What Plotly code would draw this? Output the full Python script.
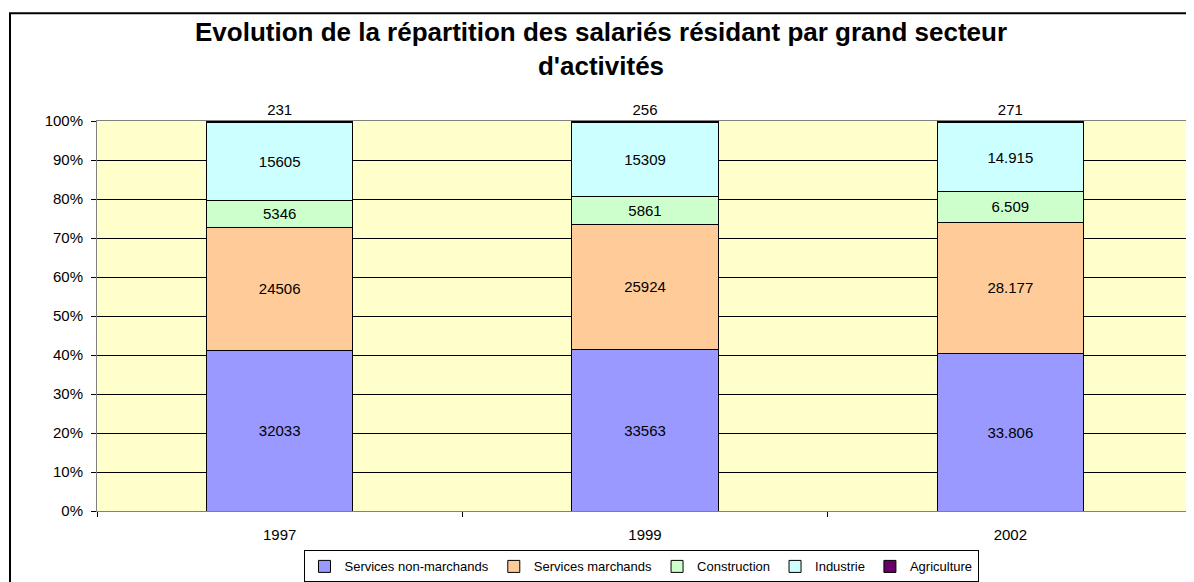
import plotly.graph_objects as go

years = ["1997", "1999", "2002"]
series_names = ["Services non-marchands", "Services marchands", "Construction", "Industrie", "Agriculture"]
services_non_marchands = [32033, 33563, 33806]
services_marchands = [24506, 25924, 28177]
construction = [5346, 5861, 6509]
industrie = [15605, 15309, 14915]
agriculture = [231, 256, 271]
label_snm = ["32033", "33563", "33.806"]
label_sm = ["24506", "25924", "28.177"]
label_con = ["5346", "5861", "6.509"]
label_ind = ["15605", "15309", "14.915"]
label_agr = ["231", "256", "271"]
y_ticks = [0, 10, 20, 30, 40, 50, 60, 70, 80, 90, 100]
y_tick_labels = ["0%", "10%", "20%", "30%", "40%", "50%", "60%", "70%", "80%", "90%", "100%"]

colors = ["#9999FF", "#FFCC99", "#CCFFCC", "#CCFFFF", "#660066"]
values = [services_non_marchands, services_marchands, construction, industrie, agriculture]
labels = [label_snm, label_sm, label_con, label_ind, label_agr]

FONT = "Liberation Sans, Arial, sans-serif"
FS = 15
OFF = 8  # page body margin offset
fig = go.Figure()
for i, name in enumerate(series_names):
    last = i == len(series_names) - 1
    fig.add_trace(go.Bar(
        x=years, y=values[i], name=name, text=labels[i],
        textposition="outside" if last else "inside",
        insidetextanchor="middle",
        constraintext="none",
        cliponaxis=False,
        textfont=dict(family=FONT, size=FS, color="black"),
        marker=dict(color=colors[i], line=dict(color="black", width=1)),
        hoverinfo="skip",
    ))

# plot area in page pixels: x 97..1193, y 121..511.5
W0, H0 = 97, 511.5
PW, PH = 1096, 390.5
def px(x):
    return (x - W0) / PW
def py(y):
    return (H0 - y) / PH

FW, FH = 1194, 582
fig.update_layout(
    width=FW, height=FH,
    margin=dict(l=W0 - OFF, r=FW - (W0 + PW - OFF), t=121 - OFF, b=FH - (H0 - OFF),
                pad=0, autoexpand=False),
    barmode="stack", barnorm="percent", bargap=0.6,
    paper_bgcolor="white", plot_bgcolor="#FFFFCC",
    font=dict(family=FONT, size=FS, color="black"),
    title=dict(
        text="<b>Evolution de la répartition des salariés résidant par grand secteur<br>d'activités</b>",
        xref="container", x=(601 - OFF) / FW, xanchor="center",
        yref="container", y=1 - 33 / FH, yanchor="top",
        font=dict(family=FONT, size=26, color="black"),
    ),
    showlegend=True,
    legend=dict(
        orientation="h", x=px(641), xanchor="center", y=py(551), yanchor="top",
        bordercolor="black", borderwidth=1, bgcolor="white",
        font=dict(family=FONT, size=13, color="black"),
        traceorder="normal", itemwidth=30, tracegroupgap=0,
    ),
    shapes=[dict(type="rect", xref="paper", yref="paper",
                 x0=px(10), x1=px(1215), y0=py(600), y1=py(13),
                 line=dict(color="black", width=2), fillcolor="rgba(0,0,0,0)", layer="below")],
)
fig.update_yaxes(
    range=[0, 100], tickmode="array", tickvals=y_ticks, ticktext=y_tick_labels,
    showgrid=True, gridcolor="black", gridwidth=1,
    ticks="outside", ticklen=5, tickcolor="black",
    showline=True, linecolor="#808080", linewidth=1, mirror=True,
    zeroline=False, ticklabelstandoff=5,
    tickfont=dict(family=FONT, size=FS, color="black"),
)
fig.update_xaxes(
    type="category", tickson="boundaries",
    ticks="outside", ticklen=5, tickcolor="black",
    showline=True, linecolor="#808080", linewidth=1, mirror=True,
    showgrid=False, ticklabelstandoff=10,
    tickfont=dict(family=FONT, size=FS, color="black"),
)
fig.write_html("out.html")
